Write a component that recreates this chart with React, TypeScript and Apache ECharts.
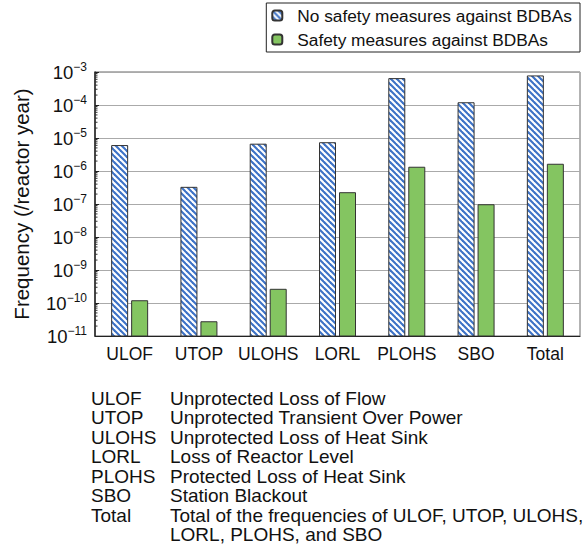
import React, { useEffect, useRef } from "react";
import * as echarts from "echarts";

const categories = ["ULOF", "UTOP", "ULOHS", "LORL", "PLOHS", "SBO", "Total"];
const noMeasures = [5.9e-6, 3.2e-7, 6.5e-6, 7.2e-6, 6.3e-4, 1.17e-4, 7.6e-4];
const withMeasures = [1.17e-10, 2.7e-11, 2.6e-10, 2.2e-7, 1.3e-6, 9.5e-8, 1.6e-6];
const seriesNames = ["No safety measures against BDBAs", "Safety measures against BDBAs"];
const yMin = 1e-11;
const yMax = 1e-3;
const yExponents = [-11, -10, -9, -8, -7, -6, -5, -4, -3];
const minorMultipliers = [2, 3, 4, 5, 6, 7, 8, 9];
const abbreviations = ["ULOF", "UTOP", "ULOHS", "LORL", "PLOHS", "SBO", "Total", ""];
const descriptions = [
  "Unprotected Loss of Flow",
  "Unprotected Transient Over Power",
  "Unprotected Loss of Heat Sink",
  "Loss of Reactor Level",
  "Protected Loss of Heat Sink",
  "Station Blackout",
  "Total of the frequencies of ULOF, UTOP, ULOHS,",
  "LORL, PLOHS, and SBO",
];

const FONT = "'Liberation Sans', Arial, Helvetica, sans-serif";
const BAR_W = 16;
const BAR_OFFSET = 10;

function makeHatch(): HTMLCanvasElement {
  const s = 6;
  const c = document.createElement("canvas");
  c.width = s;
  c.height = s;
  const ctx = c.getContext("2d")!;
  ctx.fillStyle = "#ffffff";
  ctx.fillRect(0, 0, s, s);
  ctx.strokeStyle = "#3d72c6";
  ctx.lineWidth = 2.1;
  for (const k of [-s, 0, s]) {
    ctx.beginPath();
    ctx.moveTo(-2, -2 + k);
    ctx.lineTo(s + 2, s + 2 + k);
    ctx.stroke();
  }
  return c;
}

export default function App() {
  const ref = useRef<HTMLDivElement>(null);
  useEffect(() => {
    document.body.style.margin = "0";
    const chart = echarts.init(ref.current!, null, { renderer: "svg" });
    const hatch = { image: makeHatch(), repeat: "repeat" };
    const minorValues: number[] = [];
    for (let i = 0; i < yExponents.length - 1; i++) {
      for (const m of minorMultipliers) minorValues.push(m * Math.pow(10, yExponents[i]));
    }
    const graphics: any[] = [];
    abbreviations.forEach((a, i) => {
      const y = 399 + i * 19.5;
      if (a) graphics.push({ type: "text", left: 91, top: y - 10.5, style: { text: a, font: `19px ${FONT}`, fill: "#111" } });
      graphics.push({ type: "text", left: 170, top: y - 10.5, style: { text: descriptions[i], font: `19px ${FONT}`, fill: "#111" } });
    });
    const barRender = (offset: number, fill: any) => (params: any, api: any) => {
      const idx = api.value(0);
      const v = api.value(1);
      const top = api.coord([idx, v]);
      const base = api.coord([idx, yMin]);
      return {
        type: "rect",
        shape: { x: top[0] + offset - BAR_W / 2, y: top[1], width: BAR_W, height: base[1] - top[1] },
        style: { fill, stroke: "#333", lineWidth: 1 },
      };
    };
    chart.setOption({
      animation: false,
      textStyle: { fontFamily: FONT },
      grid: { left: 95, right: 7, top: 72, bottom: 211, show: true, borderColor: "#666", borderWidth: 1 },
      legend: {
        orient: "vertical",
        right: 7,
        top: 3,
        itemWidth: 10,
        itemHeight: 10,
        itemGap: 7,
        padding: [4, 8, 4, 5],
        borderColor: "#222",
        borderWidth: 1,
        data: seriesNames,
        textStyle: { fontSize: 17.3, color: "#111", fontFamily: FONT, padding: [0, 0, 0, 10] },
      },
      xAxis: {
        type: "category",
        data: categories,
        axisLine: { lineStyle: { color: "#222", width: 1.2 } },
        axisTick: { show: false },
        axisLabel: { fontSize: 17.5, color: "#111", margin: 9, interval: 0, fontFamily: FONT },
      },
      yAxis: {
        type: "log",
        min: yMin,
        max: yMax,
        logBase: 10,
        name: "Frequency (/reactor year)",
        nameLocation: "middle",
        nameGap: 63,
        nameTextStyle: { fontSize: 20.5, color: "#111", fontFamily: FONT },
        axisLine: { show: true, lineStyle: { color: "#222", width: 1.5 } },
        axisTick: { show: true, inside: true, length: 4, lineStyle: { color: "#222" } },
        splitLine: { show: true, lineStyle: { color: "#aaa", width: 1.2 } },
        axisLabel: {
          margin: 8,
          color: "#111",
          formatter: (v: number) => {
            const e = Math.round(Math.log10(v));
            return `{b|10}{s|${e < 0 ? "\u2212" : ""}${Math.abs(e)}}`;
          },
          rich: {
            b: { fontSize: 18.5, color: "#111", fontFamily: FONT },
            s: { fontSize: 12, color: "#111", fontFamily: FONT, padding: [0, 0, 10, 0] },
          },
        },
      },
      series: [
        {
          name: seriesNames[0],
          type: "custom",
          data: noMeasures.map((v, i) => [i, v]),
          itemStyle: { color: hatch, borderColor: "#333", borderWidth: 1 },
          renderItem: barRender(-BAR_OFFSET, hatch),
        },
        {
          name: seriesNames[1],
          type: "custom",
          data: withMeasures.map((v, i) => [i, v]),
          itemStyle: { color: "#84c561", borderColor: "#333", borderWidth: 1 },
          renderItem: barRender(BAR_OFFSET, "#84c561"),
        },
        {
          type: "custom",
          data: minorValues.map((v) => [0, v]),
          silent: true,
          renderItem: (params: any, api: any) => {
            const p = api.coord([0, api.value(1)]);
            const x0 = params.coordSys.x;
            return {
              type: "line",
              shape: { x1: x0, y1: p[1], x2: x0 + 2.5, y2: p[1] },
              style: { stroke: "#333", lineWidth: 1 },
            };
          },
        },
      ],
      graphic: graphics,
    });
    return () => chart.dispose();
  }, []);
  return <div ref={ref} style={{ width: 587, height: 547 }} />;
}
